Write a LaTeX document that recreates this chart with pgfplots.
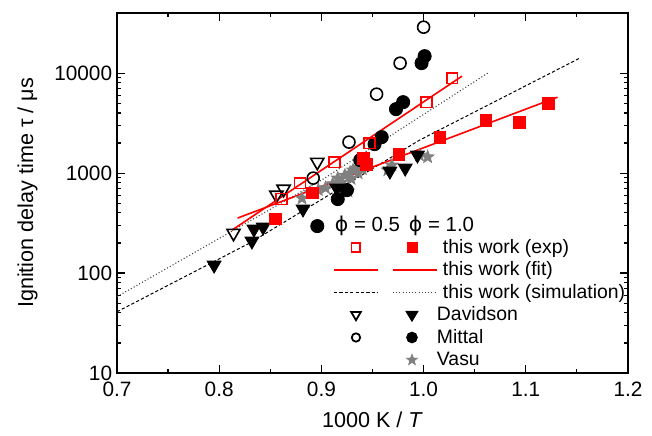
\documentclass[border=0pt]{standalone}
\usepackage{fontspec}
\setmainfont{Liberation Sans}
\newfontfamily\dejavu{DejaVu Sans}
\usepackage{pgfplots}
\pgfplotsset{compat=1.18}
\definecolor{vgray}{RGB}{128,128,128}

\pgfdeclareplotmark{fstar}{%
  \pgfpathmoveto{\pgfpointpolar{90}{\pgfplotmarksize}}%
  \pgfpathlineto{\pgfpointpolar{126}{0.42\pgfplotmarksize}}%
  \pgfpathlineto{\pgfpointpolar{162}{\pgfplotmarksize}}%
  \pgfpathlineto{\pgfpointpolar{198}{0.42\pgfplotmarksize}}%
  \pgfpathlineto{\pgfpointpolar{234}{\pgfplotmarksize}}%
  \pgfpathlineto{\pgfpointpolar{270}{0.42\pgfplotmarksize}}%
  \pgfpathlineto{\pgfpointpolar{306}{\pgfplotmarksize}}%
  \pgfpathlineto{\pgfpointpolar{342}{0.42\pgfplotmarksize}}%
  \pgfpathlineto{\pgfpointpolar{18}{\pgfplotmarksize}}%
  \pgfpathlineto{\pgfpointpolar{54}{0.42\pgfplotmarksize}}%
  \pgfpathclose
  \pgfusepathqfillstroke
}
\newcommand{\lgbb}{\path[draw=none,fill=none] (0pt,-5.625pt) rectangle (55pt,5.625pt);}

\begin{document}
\fontsize{9.75}{11.7}\selectfont
\begin{tikzpicture}
\begin{axis}[
  name=ax,
  scale only axis,
  width=255.5pt, height=180pt,
  xmin=0.7, xmax=1.2,
  ymode=log, ymin=10, ymax=40000,
  xtick={0.7,0.8,0.9,1.0,1.1,1.2},
  xticklabels={0.7,0.8,0.9,1.0,1.1,1.2},
  minor x tick num=1,
  ytick={10,100,1000,10000},
  yticklabels={10,100,1000,10000},
  tick align=inside,
  major tick length=3.8pt,
  minor tick length=2pt,
  every tick/.style={black, line width=0.6pt},
  axis line style={line width=0.8pt},
  tick label style={font=\fontsize{10.4}{12}\selectfont},
  xticklabel style={yshift=-1pt},
  yticklabel style={xshift=1pt},
  xlabel={1000 K / \textit{T}},
  ylabel={Ignition delay time τ / μs},
  label style={font=\fontsize{10.8}{13}\selectfont},
  xlabel style={at={(axis description cs:0.5,-0.13)}, anchor=center},
  ylabel style={at={(axis description cs:-0.175,0.5)}, anchor=center},
  legend cell align=left,
  legend style={draw=none, fill=none, at={(0.4168,0.4424)}, anchor=north west,
    inner sep=0pt, outer sep=0pt, row sep=0pt, column sep=0pt,
    font=\fontsize{9.7}{11.5}\selectfont,
    nodes={inner xsep=1.5pt, inner ysep=0pt}},
]
% simulation lines
\addplot[forget plot, black, line width=0.5pt, dash pattern=on 1.6pt off 1.1pt] coordinates {
 (0.700,41) (0.830,200) (0.996,2138) (1.152,14000)};
\addplot[forget plot, black!75, line width=0.55pt, dash pattern=on 0.5pt off 1.1pt] coordinates {
 (0.700,58) (0.900,850) (1.064,10200)};
% fits
\addplot[forget plot, red, line width=0.8pt] coordinates {(0.8125,269) (1.0376,9333)};
\addplot[forget plot, red, line width=0.8pt] coordinates {(0.818,355) (1.131,5754)};
% Vasu
\addplot[forget plot, only marks, mark=fstar, mark size=3.3pt, draw=vgray, fill=vgray] coordinates {
 (0.881,560) (0.889,640) (0.897,680) (0.904,710) (0.911,780) (0.916,890) (0.920,810)
 (0.923,950) (0.926,660) (0.928,1000) (0.931,1070) (0.934,1120) (0.936,1000) (0.918,740)
 (0.929,880) (0.940,1100) (0.965,1070) (0.969,1200) (0.996,1510) (1.004,1450)};
% Davidson
\addplot[forget plot, only marks, mark=triangle, mark size=3.8pt, black,
  mark options={rotate=180, line width=0.8pt, fill=white}] coordinates {
 (0.814,251) (0.856,603) (0.863,692) (0.896,1288)};
\addplot[forget plot, only marks, mark=triangle*, mark size=4pt, black,
  mark options={rotate=180, fill=black}] coordinates {
 (0.795,120) (0.832,209) (0.834,275) (0.843,288) (0.882,437) (0.915,708)
 (0.967,1047) (0.982,1122) (0.994,1514)};
% Mittal
\addplot[forget plot, only marks, mark=o, mark size=3pt, black,
  mark options={line width=0.8pt, fill=white}] coordinates {
 (0.892,891) (0.927,2042) (0.954,6166) (0.977,12589) (1.000,28840)};
\addplot[forget plot, only marks, mark=*, mark size=3.3pt, black, mark options={fill=black}] coordinates {
 (0.896,295) (0.916,550) (0.925,676) (0.938,1349) (0.952,1950) (0.959,2291)
 (0.973,4365) (0.980,5129) (0.998,12589) (1.001,14791)};
% this work exp
\addplot[forget plot, only marks, mark=square, mark size=2.7pt, red,
  mark options={line width=0.8pt, fill=white}] coordinates {
 (0.861,550) (0.879,794) (0.913,1288) (0.947,1995) (1.003,5129) (1.028,8913)};
\addplot[forget plot, only marks, mark=square*, mark size=2.9pt, red, mark options={fill=red}] coordinates {
 (0.855,347) (0.891,631) (0.941,1413) (0.944,1230) (0.976,1549) (1.016,2291)
 (1.061,3388) (1.094,3236) (1.122,5012)};

% legend
\addlegendimage{legend image code/.code={\lgbb
  \node[overlay,anchor=west,inner sep=0pt,font=\fontsize{10.2}{12}\selectfont] at (2.5pt,0pt) {{\dejavu ϕ} = 0.5};
  \node[overlay,anchor=west,inner sep=0pt,font=\fontsize{10.2}{12}\selectfont] at (39.5pt,0pt) {{\dejavu ϕ} = 1.0};}}
\addlegendentry{}
\addlegendimage{legend image code/.code={\lgbb
  \draw[red,line width=0.9pt,fill=white] (10.8pt,-2.2pt) rectangle (15.2pt,2.2pt);
  \draw[red,fill=red] (38.5pt,-2.6pt) rectangle (43.7pt,2.6pt);}}
\addlegendentry{this work (exp)}
\addlegendimage{legend image code/.code={\lgbb
  \draw[red,line width=0.8pt] (2pt,0pt) -- (24pt,0pt);
  \draw[red,line width=0.8pt] (31.5pt,0pt) -- (53.5pt,0pt);}}
\addlegendentry{this work (fit)}
\addlegendimage{legend image code/.code={\lgbb
  \draw[black,line width=0.5pt,dash pattern=on 1.6pt off 1.1pt] (2pt,0pt) -- (24pt,0pt);
  \draw[black!75,line width=0.55pt,dash pattern=on 0.5pt off 1.1pt] (31.5pt,0pt) -- (53.5pt,0pt);}}
\addlegendentry{this work (simulation)}
\addlegendimage{legend image code/.code={\lgbb
  \draw[black,line width=0.9pt,fill=white] (10.6pt,1.5pt) -- (15.4pt,1.5pt) -- (13pt,-2.6pt) -- cycle;
  \draw[black,fill=black] (38pt,1.8pt) -- (44pt,1.8pt) -- (41pt,-3.2pt) -- cycle;}}
\addlegendentry{\hspace*{-3pt}Davidson}
\addlegendimage{legend image code/.code={\lgbb
  \draw[black,line width=0.9pt,fill=white] (13pt,0pt) circle (2.1pt);
  \fill[black] (41pt,0pt) circle (2.7pt);}}
\addlegendentry{\hspace*{-3pt}Mittal}
\addlegendimage{legend image code/.code={\lgbb
  \draw[vgray,fill=vgray] plot[only marks, mark=fstar, mark size=2.8pt] coordinates {(41pt,0pt)};}}
\addlegendentry{\hspace*{-3pt}Vasu}
\end{axis}
\path[use as bounding box] ([xshift=-58.5pt,yshift=-31pt]ax.south west) rectangle ([xshift=12pt,yshift=6.5pt]ax.north east);
\end{tikzpicture}
\end{document}
